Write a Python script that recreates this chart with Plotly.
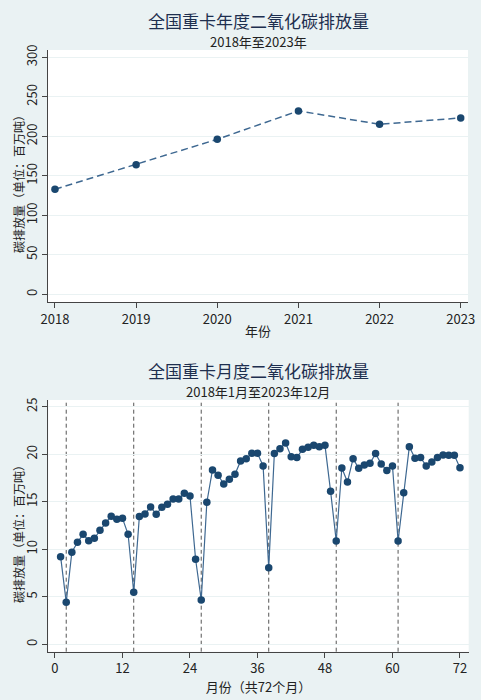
import plotly.graph_objects as go

years = [2018, 2019, 2020, 2021, 2022, 2023]
annual = [132.9, 164.1, 196.2, 232.1, 215.2, 223.2]

months = list(range(1, 73))
monthly = [9.22, 4.42, 9.68, 10.73, 11.57, 10.90, 11.15, 11.99, 12.76, 13.46, 13.15, 13.25,
           11.57, 5.47, 13.43, 13.71, 14.45, 13.67, 14.41, 14.73, 15.29, 15.29, 15.88, 15.60,
           8.94, 4.66, 14.94, 18.34, 17.78, 16.87, 17.36, 17.88, 19.28, 19.53, 20.09, 20.09,
           18.76, 8.06, 20.06, 20.58, 21.18, 19.74, 19.64, 20.51, 20.72, 20.93, 20.79, 20.93,
           16.09, 10.87, 18.55, 17.08, 19.53, 18.51, 18.86, 19.04, 20.06, 18.97, 18.27, 18.76,
           10.87, 15.95, 20.79, 19.57, 19.64, 18.76, 19.18, 19.64, 19.92, 19.88, 19.88, 18.58]
spring_months = [2, 14, 26, 38, 50, 61]

x2_ticks = [0, 12, 24, 36, 48, 60, 72]
y1_ticks = [0, 50, 100, 150, 200, 250, 300]
y2_ticks = [0, 5, 10, 15, 20, 25]

FONT = "Noto Sans CJK SC"
NAVY = "#1a476f"
BG = "#eaf2f3"
TXT = "#222222"
TITLE_C = "#1e2f4f"

fig = go.Figure()
fig.add_trace(go.Scatter(x=years, y=annual, mode="lines+markers",
                         line=dict(color="#3e6891", width=1.5, dash="7px,4px"),
                         marker=dict(color=NAVY, size=7.5),
                         xaxis="x", yaxis="y", showlegend=False))
fig.add_trace(go.Scatter(x=months, y=monthly, mode="lines+markers",
                         line=dict(color="#3e6891", width=1.2),
                         marker=dict(color=NAVY, size=7.5),
                         xaxis="x2", yaxis="y2", showlegend=False))

shapes = []
for m in spring_months:
    shapes.append(dict(type="line", xref="x2", yref="y2 domain", x0=m, x1=m, y0=0, y1=1,
                       line=dict(color="#555555", width=1, dash="4px,3px"), layer="below"))

axis_common = dict(showline=True, linecolor="#444444", linewidth=1, ticks="outside",
                   ticklen=5, tickcolor="#444444", tickfont=dict(size=13, color=TXT, family=FONT),
                   zeroline=False, mirror=False, automargin=False)

def ann(text, x, y, size, color, angle=0):
    return dict(text=text, x=x / 481, y=1 - y / 700, xref="paper", yref="paper",
                showarrow=False, font=dict(size=size, color=color, family=FONT),
                xanchor="center", yanchor="middle", textangle=angle)

fig.update_layout(
    width=481, height=700,
    margin=dict(l=0, r=0, t=0, b=0, pad=0),
    paper_bgcolor=BG, plot_bgcolor="white",
    font=dict(family=FONT, color=TXT),
    shapes=shapes,
    xaxis=dict(domain=[0.0998, 0.973], anchor="y", range=[2017.914, 2023.09],
               tickvals=years, showgrid=False,
               title=dict(text="年份", font=dict(size=13, color=TXT), standoff=0),
               **axis_common),
    yaxis=dict(domain=[0.5686, 0.9286], anchor="x", range=[-9.7, 309.2],
               tickvals=y1_ticks, tickangle=-90, showgrid=True, gridcolor=BG, gridwidth=1,
               **axis_common),
    xaxis2=dict(domain=[0.1004, 0.9744], anchor="y2", range=[-1.19, 73.55],
                tickvals=x2_ticks, showgrid=False,
                title=dict(text="月份（共72个月）", font=dict(size=13, color=TXT), standoff=0),
                **axis_common),
    yaxis2=dict(domain=[0.069, 0.4286], anchor="x2", range=[-0.78, 25.7],
                tickvals=y2_ticks, tickangle=-90, showgrid=True, gridcolor=BG, gridwidth=1,
                **axis_common),
    annotations=[
        ann("全国重卡年度二氧化碳排放量", 258, 20, 17, TITLE_C),
        ann("2018年至2023年", 258, 41.5, 13, TXT),
        ann("全国重卡月度二氧化碳排放量", 258, 370, 17, TITLE_C),
        ann("2018年1月至2023年12月", 258, 391.5, 13, TXT),
        ann("碳排放量（单位：百万吨）", 18, 181, 12, TXT, -90),
        ann("碳排放量（单位：百万吨）", 18, 531, 12, TXT, -90),
    ],
)

fig.write_html("out.html", config={"displayModeBar": False},
               post_script="document.body.style.margin='0';document.body.style.background='%s';" % BG)
